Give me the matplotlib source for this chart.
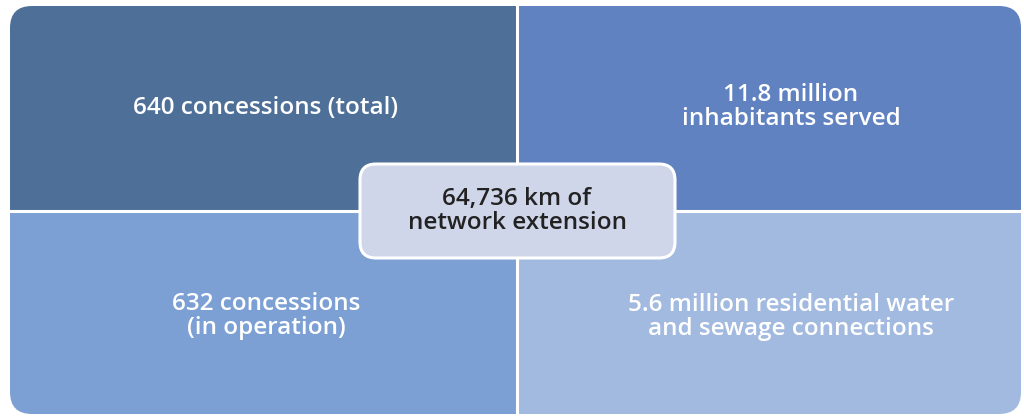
import matplotlib.pyplot as plt
from matplotlib.patches import FancyBboxPatch, Rectangle

# quadrant labels (top-left, top-right, bottom-left, bottom-right)
labels = [
    "640 concessions (total)",
    "11.8 million\ninhabitants served",
    "632 concessions\n(in operation)",
    "5.6 million residential water\nand sewage connections",
]
colors = ["#4E7098", "#6182C0", "#7DA0D4", "#A3BAE0"]
center_label = "64,736 km of\nnetwork extension"

plt.rcParams['font.family'] = ['Open Sans', 'DejaVu Sans']

fig = plt.figure(figsize=(10.24, 4.16), dpi=100)
ax = fig.add_axes([0, 0, 1, 1])
ax.set_xlim(0, 1024)
ax.set_ylim(416, 0)
ax.set_axis_off()

# outer frame with rounded corners
x0, y0, x1, y1 = 10, 6, 1021, 414
xm, ym = 517, 211
outer = FancyBboxPatch((x0, y0), x1 - x0, y1 - y0,
                       boxstyle="round,pad=0,rounding_size=22",
                       facecolor="none", edgecolor="none")
ax.add_patch(outer)

cells = [(x0, y0, xm, ym), (xm, y0, x1, ym), (x0, ym, xm, y1), (xm, ym, x1, y1)]
for (a, b, c, d), col in zip(cells, colors):
    r = Rectangle((a, b), c - a, d - b, facecolor=col, edgecolor="none", zorder=1)
    ax.add_patch(r)
    r.set_clip_path(outer)

# white dividers
ax.plot([xm, xm], [y0, y1], color="white", lw=2.2, zorder=2)
ax.plot([x0, x1], [ym, ym], color="white", lw=2.2, zorder=2)

# quadrant text
text_pos = [(266, 108), (791, 107), (266, 316), (791, 317)]
for (tx, ty), lab in zip(text_pos, labels):
    ax.text(tx, ty, lab, color="white", fontsize=17.5, fontweight="semibold",
            ha="center", va="center", linespacing=1.0, zorder=3)

# center box
box = FancyBboxPatch((360, 164), 315, 94,
                     boxstyle="round,pad=0,rounding_size=16",
                     facecolor="#D0D6E9", edgecolor="white", lw=2.2, zorder=4)
ax.add_patch(box)
ax.text(517, 211, center_label, color="#222222", fontsize=17.5, fontweight="semibold",
        ha="center", va="center", linespacing=1.0, zorder=5)

fig.savefig("out.png", dpi=100)
